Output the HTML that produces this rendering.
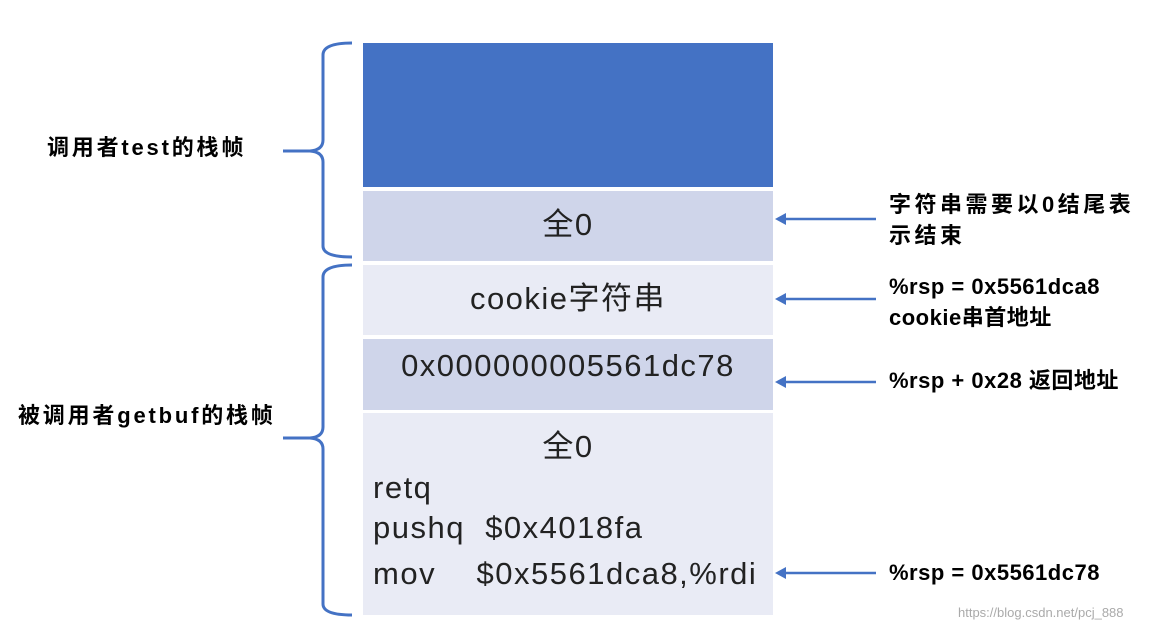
<!DOCTYPE html>
<html><head><meta charset="utf-8"><style>
body{margin:0;width:1169px;height:633px;background:#fff;position:relative;overflow:hidden;font-family:"Liberation Sans","Noto Sans CJK SC",sans-serif;}
.b{position:absolute;left:363px;width:410px;}
.t{position:absolute;font-size:31px;letter-spacing:1.5px;color:#222;white-space:nowrap;}
.c{left:363px;width:410px;text-align:center;}
.r{position:absolute;left:889px;font-size:22px;font-weight:bold;color:#000;line-height:31px;white-space:nowrap;letter-spacing:0.5px;}
.l{position:absolute;font-size:22px;letter-spacing:2.8px;font-weight:bold;color:#000;white-space:nowrap;}
</style></head><body>
<div class="b" style="top:43px;height:144px;background:#4472C4"></div>
<div class="b" style="top:191px;height:70px;background:#CFD5EA"></div>
<div class="b" style="top:265px;height:70px;background:#E9EBF5"></div>
<div class="b" style="top:339px;height:71px;background:#CFD5EA"></div>
<div class="b" style="top:413px;height:202px;background:#E9EBF5"></div>
<div class="t c" style="top:199px">全0</div>
<div class="t c" style="top:273px">cookie字符串</div>
<div class="t c" style="top:348px">0x000000005561dc78</div>
<div class="t c" style="top:421px">全0</div>
<div class="t" style="left:373px;top:470px">retq</div>
<div class="t" style="left:373px;top:510px">pushq&nbsp;&nbsp;$0x4018fa</div>
<div class="t" style="left:373px;top:556px">mov&nbsp;&nbsp;&nbsp;&nbsp;$0x5561dca8,%rdi</div>
<div class="l" style="left:47px;top:130px">调用者test的栈帧</div>
<div class="l" style="left:18px;top:398px">被调用者getbuf的栈帧</div>
<div class="r" style="top:189px;letter-spacing:3.5px">字符串需要以0结尾表<br>示结束</div>
<div class="r" style="top:271px">%rsp = 0x5561dca8<br>cookie串首地址</div>
<div class="r" style="top:365px">%rsp + 0x28 返回地址</div>
<div class="r" style="top:557px">%rsp = 0x5561dc78</div>
<div style="position:absolute;left:958px;top:605px;font-size:13px;color:#aaa">https://blog.csdn.net/pcj_888</div>
<svg width="1169" height="633" style="position:absolute;left:0;top:0" fill="none" stroke="#4472C4" stroke-width="3">
<path d="M352,43 Q323,43 323,55 L323,140 Q323,150 310,151 L283,151 M310,151 Q323,152 323,162 L323,246 Q323,257 352,257"/>
<path d="M352,265 Q323,265 323,277 L323,427 Q323,437 310,438 L283,438 M310,438 Q323,439 323,449 L323,604 Q323,615 352,615"/>
<g stroke-width="2.5">
<line x1="876" y1="219" x2="782" y2="219"/><line x1="876" y1="299" x2="782" y2="299"/>
<line x1="876" y1="382" x2="782" y2="382"/><line x1="876" y1="573" x2="782" y2="573"/>
</g>
<g fill="#4472C4" stroke="none">
<path d="M775,219 L786,213 L786,225Z"/><path d="M775,299 L786,293 L786,305Z"/>
<path d="M775,382 L786,376 L786,388Z"/><path d="M775,573 L786,567 L786,579Z"/>
</g>
</svg>
</body></html>
